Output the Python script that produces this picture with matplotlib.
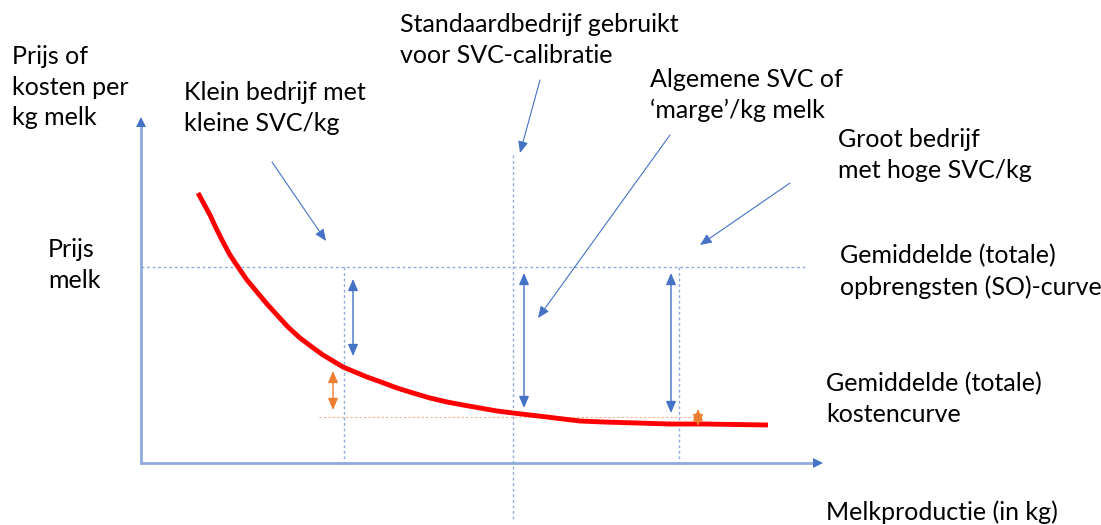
import matplotlib
matplotlib.use("Agg")
import matplotlib.pyplot as plt

# ---- data (pixel-like diagram coordinates, y grows downward) ----
curve_x = [198, 204, 210, 216, 223, 230, 238, 247, 257, 267, 277, 288, 300, 312, 323, 333,
           343, 355, 367, 381, 397, 413, 430, 447, 463, 480, 497, 513,
           530, 547, 563, 580, 603, 637, 670, 703, 768]
curve_y = [193, 204, 215, 228, 242, 255, 267, 280, 292, 304, 315, 327, 338, 347, 355, 361,
           367, 372, 377, 382, 388, 393, 398, 402, 405, 408, 411, 413,
           415, 417, 419, 421, 422, 423, 424, 424, 425]

price_level = 267
cost_level = 417
farm_x = [344, 513, 679]          # klein, standaard, groot bedrijf
axis_origin = (141, 463)
axis_x_end = 822
axis_y_end = 118

margin_arrows = [(353, 279, 356), (524, 273, 408), (671, 273, 413)]
cost_arrows = [(333, 371, 410), (698, 409, 426)]

pointer_arrows = [((272, 162), (326, 241)),
                  ((540, 80), (520, 153)),
                  ((670, 135), (538, 318)),
                  ((790, 183), (700, 245))]

labels = [
    ("Prijs of\nkosten per\nkg melk", 12, 45),
    ("Prijs\nmelk", 48, 238),
    ("Klein bedrijf met\nkleine SVC/kg", 184, 81),
    ("Standaardbedrijf gebruikt\nvoor SVC-calibratie", 400, 13),
    ("Algemene SVC of\n\u2018marge\u2019/kg melk", 650, 68),
    ("Groot bedrijf\nmet hoge SVC/kg", 838, 128),
    ("Gemiddelde (totale)\nopbrengsten (SO)-curve", 840, 244),
    ("Gemiddelde (totale)\nkostencurve", 826, 372),
    ("Melkproductie (in kg)", 826, 500),
]

BLUE = "#4472C4"
LIGHT = "#8FAADC"
ORANGE = "#ED7D31"
RED = "#FF0000"

fig = plt.figure(figsize=(11.01, 5.25), dpi=100)
ax = fig.add_axes([0, 0, 1, 1])
ax.set_xlim(0, 1101)
ax.set_ylim(525, 0)
ax.axis("off")

# axes of the diagram
ox, oy = axis_origin
ax.plot([ox, ox], [oy + 1, axis_y_end + 6], color=LIGHT, lw=2, solid_capstyle="butt")
ax.plot([ox - 1, axis_x_end - 6], [oy, oy], color=LIGHT, lw=2, solid_capstyle="butt")
ax.plot([ox], [axis_y_end + 4], marker="^", color=BLUE, ms=7, mew=0)
ax.plot([axis_x_end - 4], [oy], marker=">", color=BLUE, ms=7, mew=0)

# dotted reference lines
ax.plot([ox, 805], [price_level, price_level], color=LIGHT, lw=1, ls=(0, (2, 2)))
ax.plot([farm_x[0], farm_x[0]], [price_level, 467], color=LIGHT, lw=1, ls=(0, (2, 2)))
ax.plot([farm_x[1], farm_x[1]], [155, 520], color=LIGHT, lw=1, ls=(0, (2, 2)))
ax.plot([farm_x[2], farm_x[2]], [price_level, 467], color=LIGHT, lw=1, ls=(0, (2, 2)))
ax.plot([319, 700], [cost_level, cost_level], color="#F4B183", lw=0.8, ls=(0, (2, 2)))

# cost curve
ax.plot(curve_x, curve_y, color=RED, lw=3.5, solid_capstyle="butt", solid_joinstyle="round")

# margin double arrows
for x, y0, y1 in margin_arrows:
    ax.annotate("", xy=(x, y1), xytext=(x, y0),
                arrowprops=dict(arrowstyle="<|-|>,head_length=0.7,head_width=0.3",
                                color=BLUE, lw=1, shrinkA=0, shrinkB=0))
for x, y0, y1 in cost_arrows:
    ax.annotate("", xy=(x, y1), xytext=(x, y0),
                arrowprops=dict(arrowstyle="<|-|>,head_length=0.7,head_width=0.3",
                                color=ORANGE, lw=1, shrinkA=0, shrinkB=0))

# pointer arrows
for (sx, sy), (ex, ey) in pointer_arrows:
    ax.annotate("", xy=(ex, ey), xytext=(sx, sy),
                arrowprops=dict(arrowstyle="-|>,head_length=0.7,head_width=0.3",
                                color=BLUE, lw=0.8, shrinkA=0, shrinkB=0))

for txt, x, y in labels:
    ax.text(x, y, txt, fontsize=18, family="Lato", color="#000000",
            ha="left", va="top", linespacing=1.4)

fig.savefig("out.png", dpi=100)
